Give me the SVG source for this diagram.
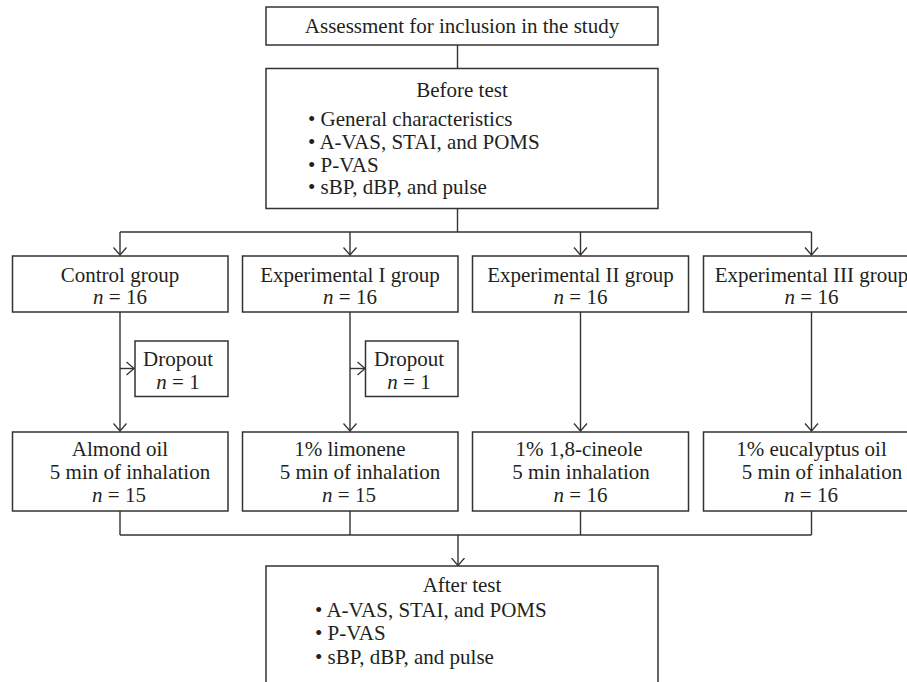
<svg xmlns="http://www.w3.org/2000/svg" width="907" height="682" viewBox="0 0 907 682">
<defs>
<marker id="ah" markerWidth="16" markerHeight="16" refX="8" refY="8" orient="auto" markerUnits="userSpaceOnUse">
<path d="M0.5,1.5 L8,8 L0.5,14.5" fill="none" stroke="#333" stroke-width="1.3"/>
</marker>
<style>
.box{fill:#fff;stroke:#333;stroke-width:1.5}
.ln{fill:none;stroke:#333;stroke-width:1.4}
.ar{fill:none;stroke:#333;stroke-width:1.4;marker-end:url(#ah)}
text{font-family:"Liberation Serif","Times New Roman",serif;font-size:21px;fill:#231f20}
.c{text-anchor:middle}
.i{font-style:italic}
</style>
</defs>
<rect width="907" height="682" fill="#fff"/>
<g id="connectors">
<line class="ln" x1="457.5" y1="45" x2="457.5" y2="68"/>
<line class="ln" x1="457.5" y1="208" x2="457.5" y2="232"/>
<line class="ln" x1="120" y1="232" x2="811.5" y2="232"/>
<line class="ar" x1="120" y1="232" x2="120" y2="255"/>
<line class="ar" x1="350" y1="232" x2="350" y2="255"/>
<line class="ar" x1="580.5" y1="232" x2="580.5" y2="255"/>
<line class="ar" x1="811.5" y1="232" x2="811.5" y2="255"/>
<line class="ar" x1="120" y1="312" x2="120" y2="431"/>
<line class="ar" x1="350" y1="312" x2="350" y2="431"/>
<line class="ar" x1="580.5" y1="312" x2="580.5" y2="431"/>
<line class="ar" x1="811.5" y1="312" x2="811.5" y2="431"/>
<line class="ar" x1="120" y1="368.5" x2="134" y2="368.5"/>
<line class="ar" x1="350" y1="368.5" x2="365" y2="368.5"/>
<line class="ln" x1="120" y1="511" x2="120" y2="535"/>
<line class="ln" x1="350" y1="511" x2="350" y2="535"/>
<line class="ln" x1="580.5" y1="511" x2="580.5" y2="535"/>
<line class="ln" x1="811.5" y1="511" x2="811.5" y2="535"/>
<line class="ln" x1="120" y1="535" x2="811.5" y2="535"/>
<line class="ar" x1="458" y1="535" x2="458" y2="565.5"/>
</g>
<g id="assessment">
<rect class="box" x="266" y="7" width="392" height="38"/>
<text class="c" x="462" y="33">Assessment for inclusion in the study</text>
</g>
<g id="before-test">
<rect class="box" x="266" y="68.5" width="392" height="140"/>
<text class="c" x="462" y="96.5">Before test</text>
<text x="308" y="126">• General characteristics</text>
<text x="308" y="149">• A-VAS, STAI, and POMS</text>
<text x="308" y="171.5">• P-VAS</text>
<text x="308" y="193.5">• sBP, dBP, and pulse</text>
</g>
<g id="control-group">
<rect class="box" x="12.5" y="256" width="215.5" height="56"/>
<text class="c" x="120" y="281.5">Control group</text>
<text class="c" x="120" y="304"><tspan class="i">n</tspan> = 16</text>
</g>
<g id="exp1-group">
<rect class="box" x="242.5" y="256" width="215.5" height="56"/>
<text class="c" x="350" y="281.5">Experimental I group</text>
<text class="c" x="350" y="304"><tspan class="i">n</tspan> = 16</text>
</g>
<g id="exp2-group">
<rect class="box" x="472.5" y="256" width="216" height="56"/>
<text class="c" x="580.5" y="281.5">Experimental II group</text>
<text class="c" x="580.5" y="304"><tspan class="i">n</tspan> = 16</text>
</g>
<g id="exp3-group">
<rect class="box" x="703.5" y="256" width="220" height="56"/>
<text class="c" x="811.5" y="281.5">Experimental III group</text>
<text class="c" x="811.5" y="304"><tspan class="i">n</tspan> = 16</text>
</g>
<g id="dropout-control">
<rect class="box" x="135" y="341" width="93" height="55.5"/>
<text class="c" x="178" y="366">Dropout</text>
<text class="c" x="178" y="388.5"><tspan class="i">n</tspan> = 1</text>
</g>
<g id="dropout-exp1">
<rect class="box" x="365.5" y="341" width="92.5" height="55.5"/>
<text class="c" x="409" y="366">Dropout</text>
<text class="c" x="409" y="388.5"><tspan class="i">n</tspan> = 1</text>
</g>
<g id="almond-oil">
<rect class="box" x="12.5" y="432" width="215.5" height="79"/>
<text class="c" x="120" y="455.5">Almond oil</text>
<text class="c" x="130" y="478.5">5 min of inhalation</text>
<text class="c" x="119" y="501.5"><tspan class="i">n</tspan> = 15</text>
</g>
<g id="limonene">
<rect class="box" x="242.5" y="432" width="215.5" height="79"/>
<text class="c" x="350" y="455.5">1% limonene</text>
<text class="c" x="360" y="478.5">5 min of inhalation</text>
<text class="c" x="349" y="501.5"><tspan class="i">n</tspan> = 15</text>
</g>
<g id="cineole">
<rect class="box" x="472.5" y="432" width="216" height="79"/>
<text class="c" x="579" y="455.5">1% 1,8-cineole</text>
<text class="c" x="581" y="478.5">5 min inhalation</text>
<text class="c" x="580.5" y="501.5"><tspan class="i">n</tspan> = 16</text>
</g>
<g id="eucalyptus">
<rect class="box" x="703.5" y="432" width="220" height="79"/>
<text class="c" x="811.5" y="455.5">1% eucalyptus oil</text>
<text class="c" x="822" y="478.5">5 min of inhalation</text>
<text class="c" x="811" y="501.5"><tspan class="i">n</tspan> = 16</text>
</g>
<g id="after-test">
<rect class="box" x="266" y="566" width="392" height="140"/>
<text class="c" x="462" y="591.5">After test</text>
<text x="315" y="616.5">• A-VAS, STAI, and POMS</text>
<text x="315" y="640">• P-VAS</text>
<text x="315" y="663.5">• sBP, dBP, and pulse</text>
</g>
</svg>
